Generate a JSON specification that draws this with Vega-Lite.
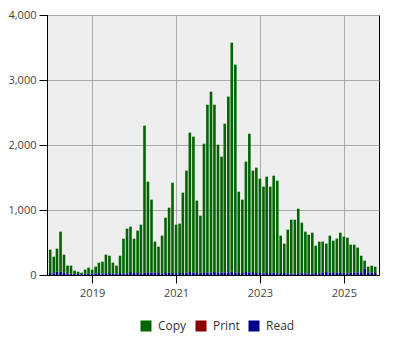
{
  "$schema": "https://vega.github.io/schema/vega-lite/v6.json",
  "width": 332,
  "height": 260,
  "autosize": "none",
  "padding": {"left": 47, "top": 15, "right": 21, "bottom": 75},
  "config": {
    "font": "Open Sans",
    "view": {"fill": "#eeeeee", "stroke": "#000000", "strokeWidth": 1},
    "axis": {
      "domainColor": "#000000",
      "tickColor": "#000000",
      "tickSize": 8,
      "gridColor": "#aaaaaa",
      "gridWidth": 1,
      "labelColor": "#444444",
      "labelFontSize": 11,
      "labelPadding": 3
    }
  },
  "data": {
    "values": [
      {"date": "2018-01-01", "Copy": 360, "Print": 0, "Read": 30},
      {"date": "2018-02-01", "Copy": 257, "Print": 0, "Read": 25},
      {"date": "2018-03-01", "Copy": 355, "Print": 0, "Read": 50},
      {"date": "2018-04-01", "Copy": 617, "Print": 0, "Read": 50},
      {"date": "2018-05-01", "Copy": 278, "Print": 0, "Read": 35},
      {"date": "2018-06-01", "Copy": 124, "Print": 0, "Read": 20},
      {"date": "2018-07-01", "Copy": 124, "Print": 0, "Read": 20},
      {"date": "2018-08-01", "Copy": 52, "Print": 0, "Read": 15},
      {"date": "2018-09-01", "Copy": 36, "Print": 0, "Read": 15},
      {"date": "2018-10-01", "Copy": 21, "Print": 0, "Read": 15},
      {"date": "2018-11-01", "Copy": 62, "Print": 0, "Read": 20},
      {"date": "2018-12-01", "Copy": 93, "Print": 0, "Read": 20},
      {"date": "2019-01-01", "Copy": 57, "Print": 0, "Read": 25},
      {"date": "2019-02-01", "Copy": 108, "Print": 0, "Read": 20},
      {"date": "2019-03-01", "Copy": 160, "Print": 0, "Read": 30},
      {"date": "2019-04-01", "Copy": 185, "Print": 0, "Read": 20},
      {"date": "2019-05-01", "Copy": 288, "Print": 0, "Read": 25},
      {"date": "2019-06-01", "Copy": 267, "Print": 0, "Read": 30},
      {"date": "2019-07-01", "Copy": 170, "Print": 0, "Read": 20},
      {"date": "2019-08-01", "Copy": 119, "Print": 0, "Read": 25},
      {"date": "2019-09-01", "Copy": 267, "Print": 0, "Read": 30},
      {"date": "2019-10-01", "Copy": 539, "Print": 0, "Read": 20},
      {"date": "2019-11-01", "Copy": 688, "Print": 0, "Read": 25},
      {"date": "2019-12-01", "Copy": 699, "Print": 0, "Read": 45},
      {"date": "2020-01-01", "Copy": 529, "Print": 0, "Read": 30},
      {"date": "2020-02-01", "Copy": 652, "Print": 0, "Read": 30},
      {"date": "2020-03-01", "Copy": 749, "Print": 0, "Read": 25},
      {"date": "2020-04-01", "Copy": 2262, "Print": 0, "Read": 35},
      {"date": "2020-05-01", "Copy": 1406, "Print": 0, "Read": 30},
      {"date": "2020-06-01", "Copy": 1119, "Print": 0, "Read": 40},
      {"date": "2020-07-01", "Copy": 473, "Print": 0, "Read": 40},
      {"date": "2020-08-01", "Copy": 406, "Print": 0, "Read": 30},
      {"date": "2020-09-01", "Copy": 580, "Print": 0, "Read": 25},
      {"date": "2020-10-01", "Copy": 852, "Print": 0, "Read": 30},
      {"date": "2020-11-01", "Copy": 1001, "Print": 0, "Read": 35},
      {"date": "2020-12-01", "Copy": 1390, "Print": 0, "Read": 30},
      {"date": "2021-01-01", "Copy": 749, "Print": 0, "Read": 25},
      {"date": "2021-02-01", "Copy": 760, "Print": 0, "Read": 30},
      {"date": "2021-03-01", "Copy": 1237, "Print": 0, "Read": 30},
      {"date": "2021-04-01", "Copy": 1570, "Print": 0, "Read": 35},
      {"date": "2021-05-01", "Copy": 2145, "Print": 0, "Read": 45},
      {"date": "2021-06-01", "Copy": 2088, "Print": 0, "Read": 40},
      {"date": "2021-07-01", "Copy": 1114, "Print": 0, "Read": 30},
      {"date": "2021-08-01", "Copy": 878, "Print": 0, "Read": 35},
      {"date": "2021-09-01", "Copy": 1990, "Print": 0, "Read": 30},
      {"date": "2021-10-01", "Copy": 2580, "Print": 0, "Read": 40},
      {"date": "2021-11-01", "Copy": 2785, "Print": 0, "Read": 35},
      {"date": "2021-12-01", "Copy": 2575, "Print": 0, "Read": 45},
      {"date": "2022-01-01", "Copy": 1965, "Print": 0, "Read": 40},
      {"date": "2022-02-01", "Copy": 1785, "Print": 0, "Read": 35},
      {"date": "2022-03-01", "Copy": 2288, "Print": 0, "Read": 40},
      {"date": "2022-04-01", "Copy": 2704, "Print": 0, "Read": 40},
      {"date": "2022-05-01", "Copy": 3524, "Print": 0, "Read": 50},
      {"date": "2022-06-01", "Copy": 3201, "Print": 0, "Read": 35},
      {"date": "2022-07-01", "Copy": 1252, "Print": 0, "Read": 30},
      {"date": "2022-08-01", "Copy": 1129, "Print": 0, "Read": 30},
      {"date": "2022-09-01", "Copy": 1699, "Print": 0, "Read": 45},
      {"date": "2022-10-01", "Copy": 2134, "Print": 0, "Read": 40},
      {"date": "2022-11-01", "Copy": 1560, "Print": 0, "Read": 45},
      {"date": "2022-12-01", "Copy": 1621, "Print": 0, "Read": 30},
      {"date": "2023-01-01", "Copy": 1452, "Print": 0, "Read": 30},
      {"date": "2023-02-01", "Copy": 1326, "Print": 8, "Read": 25},
      {"date": "2023-03-01", "Copy": 1483, "Print": 0, "Read": 30},
      {"date": "2023-04-01", "Copy": 1329, "Print": 0, "Read": 30},
      {"date": "2023-05-01", "Copy": 1493, "Print": 0, "Read": 35},
      {"date": "2023-06-01", "Copy": 1426, "Print": 0, "Read": 25},
      {"date": "2023-07-01", "Copy": 575, "Print": 0, "Read": 30},
      {"date": "2023-08-01", "Copy": 452, "Print": 0, "Read": 30},
      {"date": "2023-09-01", "Copy": 672, "Print": 0, "Read": 25},
      {"date": "2023-10-01", "Copy": 831, "Print": 0, "Read": 20},
      {"date": "2023-11-01", "Copy": 831, "Print": 0, "Read": 20},
      {"date": "2023-12-01", "Copy": 995, "Print": 0, "Read": 25},
      {"date": "2024-01-01", "Copy": 770, "Print": 0, "Read": 35},
      {"date": "2024-02-01", "Copy": 642, "Print": 0, "Read": 25},
      {"date": "2024-03-01", "Copy": 595, "Print": 0, "Read": 25},
      {"date": "2024-04-01", "Copy": 626, "Print": 0, "Read": 25},
      {"date": "2024-05-01", "Copy": 421, "Print": 0, "Read": 30},
      {"date": "2024-06-01", "Copy": 488, "Print": 0, "Read": 25},
      {"date": "2024-07-01", "Copy": 473, "Print": 0, "Read": 40},
      {"date": "2024-08-01", "Copy": 437, "Print": 0, "Read": 45},
      {"date": "2024-09-01", "Copy": 570, "Print": 0, "Read": 35},
      {"date": "2024-10-01", "Copy": 498, "Print": 0, "Read": 30},
      {"date": "2024-11-01", "Copy": 519, "Print": 0, "Read": 40},
      {"date": "2024-12-01", "Copy": 621, "Print": 0, "Read": 30},
      {"date": "2025-01-01", "Copy": 555, "Print": 0, "Read": 35},
      {"date": "2025-02-01", "Copy": 549, "Print": 0, "Read": 25},
      {"date": "2025-03-01", "Copy": 432, "Print": 0, "Read": 35},
      {"date": "2025-04-01", "Copy": 427, "Print": 0, "Read": 40},
      {"date": "2025-05-01", "Copy": 381, "Print": 0, "Read": 40},
      {"date": "2025-06-01", "Copy": 267, "Print": 0, "Read": 30},
      {"date": "2025-07-01", "Copy": 120, "Print": 0, "Read": 100},
      {"date": "2025-08-01", "Copy": 88, "Print": 0, "Read": 40},
      {"date": "2025-09-01", "Copy": 109, "Print": 0, "Read": 35},
      {"date": "2025-10-01", "Copy": 98, "Print": 0, "Read": 30}
    ]
  },
  "transform": [
    {"fold": ["Copy", "Print", "Read"], "as": ["type", "count"]}
  ],
  "mark": {"type": "bar", "width": 2.6},
  "encoding": {
    "x": {
      "field": "date",
      "type": "temporal",
      "title": null,
      "scale": {
        "domain": [
          {"year": 2017, "month": 12, "date": 4},
          {"year": 2025, "month": 11, "date": 3}
        ],
        "nice": false,
        "padding": 0
      },
      "axis": {
        "values": [
          {"year": 2019, "month": 1, "date": 1},
          {"year": 2021, "month": 1, "date": 1},
          {"year": 2023, "month": 1, "date": 1},
          {"year": 2025, "month": 1, "date": 1}
        ],
        "format": "%Y",
        "labelPadding": 4
      }
    },
    "y": {
      "field": "count",
      "type": "quantitative",
      "stack": "zero",
      "title": null,
      "scale": {"domain": [0, 4000], "nice": false},
      "axis": {"values": [0, 1000, 2000, 3000, 4000], "format": ",d"}
    },
    "color": {
      "field": "type",
      "type": "nominal",
      "scale": {
        "domain": ["Copy", "Print", "Read"],
        "range": ["#006400", "#8b0000", "#00008b"]
      },
      "legend": {
        "title": null,
        "orient": "none",
        "direction": "horizontal",
        "legendX": 93,
        "legendY": 305,
        "symbolType": "square",
        "symbolSize": 121,
        "symbolStrokeWidth": 0,
        "symbolOpacity": 1,
        "labelFontSize": 12,
        "labelColor": "#333333",
        "labelOffset": 6,
        "columnPadding": 8
      }
    },
    "order": {"field": "type", "sort": "descending"}
  }
}
